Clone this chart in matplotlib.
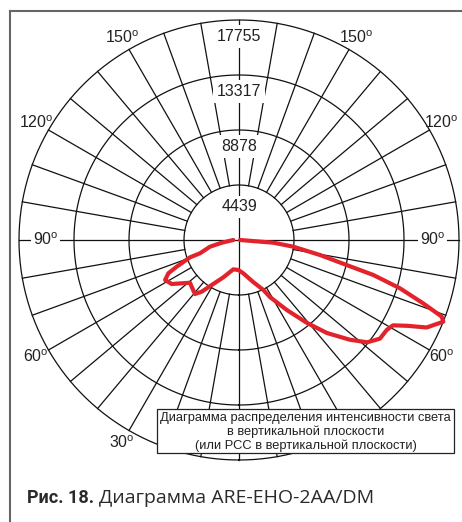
import numpy as np
import matplotlib
matplotlib.use('Agg')
import matplotlib.pyplot as plt
from matplotlib.lines import Line2D
from matplotlib.patches import Rectangle

plt.rcParams['font.family'] = ['Liberation Sans', 'DejaVu Sans']
plt.rcParams['mathtext.fontset'] = 'custom'
plt.rcParams['mathtext.rm'] = 'Liberation Sans'

# Шкала интенсивности (кд) и подписи углов
rings = [4439, 8878, 13317, 17755]
deg_left = [150, 120, 90, 60, 30]
deg_right = [150, 120, 90, 60]   # 30° справа закрыт табличкой

# Кривая КСС, угол от надира (град) -> интенсивность (кд)
angles = [-90, -81, -77, -71.2, -70.5, -66.8, -64.8, -61.6, -56.8, -52.9,
          -48.9, -45.4, -39.2, -35.8, -31.2, -22.8, -17.8, -11, -1.3, 7.4,
          18.4, 26, 28.5, 34.4, 39.3, 43.4, 48, 51.4, 55, 58.7,
          61, 63, 65, 68.2, 69.3, 71, 73.3, 75.4, 76.9, 79.5,
          83, 85.5, 90]
values = [460, 1410, 2405, 3325, 4197, 5472, 6295, 6780, 6489, 5795,
          5246, 5367, 5625, 5141, 4245, 3269, 2825, 2413, 2421, 2712,
          3551, 4487, 5246, 6860, 8636, 10331, 12026, 13236, 13882, 13963,
          14205, 15254, 16707, 17756, 17490, 15738, 13560, 11203, 8926, 6650,
          4415, 2776, 80]

W, H = 462, 522
fig = plt.figure(figsize=(W / 100, H / 100), dpi=100)
ax = fig.add_axes([19 / W, 62 / H, 440 / W, 440 / H], projection='polar')
ax.set_theta_zero_location('S')
ax.set_theta_direction(1)
rmax = rings[-1]
ax.set_ylim(0, rmax)
ax.set_axis_off()

gc = '#111111'
t = np.linspace(0, 2 * np.pi, 721)
for r in rings:
    ax.plot(t, np.full_like(t, r), color=gc, lw=0.9, clip_on=False, zorder=2)

# радиальные линии через 10 градусов
for a in range(-170, 190, 10):
    th = np.radians(a)
    if a % 90 == 0:
        ax.plot([th, th], [0, rmax], color=gc, lw=0.9, clip_on=False, zorder=2)
    else:
        ax.plot([th, th], [rings[0], rmax], color=gc, lw=0.9, clip_on=False, zorder=2)

# подписи шкалы на вертикали
step = rings[0]
for i, r in enumerate(rings):
    rr = r - 0.3 * step if i > 0 else r - 0.4 * step
    ax.text(np.pi, rr, str(r), ha='center', va='center', fontsize=11.5, color='#222',
            bbox=dict(fc='white', ec='none', pad=2.5), zorder=3)

# подписи углов
rpx = rmax / 220.0
for s, degs in ((-1, deg_left), (1, deg_right)):
    for d in degs:
        lab = '%d$^{\\mathrm{o}}$' % d
        if d == 90:
            ax.text(np.radians(s * d), 193.5 * rpx, lab, ha='center', va='center',
                    fontsize=11.5, color='#222',
                    bbox=dict(fc='white', ec='none', pad=1.5), zorder=3)
        else:
            ax.text(np.radians(s * d), 234 * rpx, lab, ha='center', va='center',
                    fontsize=11.5, color='#222', zorder=3)

ax.plot(np.radians(angles), values, color='#e3232b', lw=3.0,
        solid_joinstyle='round', solid_capstyle='round', clip_on=False, zorder=4)

# рамка
frame = '#666666'
fig.add_artist(Line2D([10 / W, 10 / W], [0, 1 - 11 / H], color=frame, lw=1.5))
fig.add_artist(Line2D([10 / W, 1], [1 - 11 / H, 1 - 11 / H], color=frame, lw=1.5))

# подпись в рамке
fig.add_artist(Rectangle((157 / W, 1 - 453 / H), 297 / W, 44 / H, transform=fig.transFigure,
                         fc='white', ec='#222', lw=0.9, zorder=5))
fig.text(305.5 / W, 1 - 432 / H,
         'Диаграмма распределения интенсивности света\nв вертикальной плоскости\n(или РСС в вертикальной плоскости)',
         ha='center', va='center', multialignment='center', fontsize=9.3,
         linespacing=1.17, color='#222', zorder=6)

# подпись рисунка
t1 = fig.text(27 / W, 1 - 503 / H, 'Рис. 18.', fontsize=13, fontweight='bold',
              family=['Roboto', 'DejaVu Sans'], color='#2a2a2a', va='baseline')
fig.canvas.draw()
bb = t1.get_window_extent()
fig.text((bb.x1 + 5) / W, 1 - 503 / H, 'Диаграмма ARE-EHO-2AA/DM', va='baseline',
         fontsize=14, family=['Open Sans', 'DejaVu Sans'], color='#2a2a2a')

fig.savefig('out.png', dpi=100)
